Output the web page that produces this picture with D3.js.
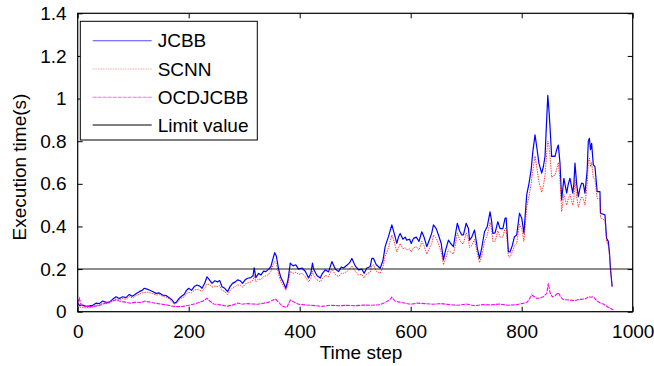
<!DOCTYPE html>
<html><head><meta charset="utf-8">
<script src="https://cdn.jsdelivr.net/npm/d3@7"></script>
<style>
html,body{margin:0;padding:0;background:#fff;}
svg text{font-family:"Liberation Sans",Arial,sans-serif;fill:#000;}
</style></head>
<body>
<svg id="chart" width="654" height="366"></svg>
<script>
const steps = [0,3,9,15,21,27,33,39,45,51,57,63,69,75,81,87,93,98,102,107,111,116,120,125,129,135,141,147,153,159,165,170,174,178,182,186,192,196,200,205,210,215,220,224,229,233,237,242,247,252,256,260,265,270,275,279,284,288,293,297,302,306,312,316,318,321,326,330,335,339,344,348,352,355,358,362,366,370,375,379,383,388,393,398,404,410,416,420,423,425,431,437,441,446,452,458,464,470,475,479,486,490,494,500,506,512,516,521,527,530,533,538,545,550,554,557,560,563,566,570,575,578,581,586,590,593,598,601,605,610,615,620,624,629,634,638,641,646,650,655,659,663,668,672,677,681,684,688,692,695,700,704,706,710,715,720,724,728,733,738,743,746,748,752,757,761,766,770,772,776,779,783,787,791,796,800,804,809,813,817,820,824,827,831,836,839,842,845,847,849,851,854,857,860,863,866,869,872,876,881,884,887,892,894,896,899,902,905,908,911,914,918,920,922,924,926,929,932,936,941,942,950,953,956,958,960,963];

const jcbb = [0.04,0.03,0.031,0.025,0.027,0.03,0.04,0.038,0.05,0.044,0.045,0.058,0.07,0.062,0.07,0.066,0.081,0.072,0.078,0.088,0.094,0.1,0.11,0.106,0.102,0.095,0.086,0.088,0.078,0.076,0.066,0.055,0.04,0.045,0.06,0.07,0.082,0.1,0.11,0.1,0.118,0.125,0.12,0.11,0.135,0.164,0.15,0.133,0.145,0.14,0.146,0.117,0.11,0.094,0.12,0.133,0.14,0.149,0.145,0.133,0.15,0.157,0.16,0.17,0.206,0.16,0.18,0.172,0.19,0.188,0.2,0.211,0.25,0.277,0.26,0.2,0.16,0.14,0.11,0.15,0.228,0.215,0.22,0.2,0.205,0.19,0.158,0.18,0.228,0.2,0.17,0.158,0.18,0.196,0.187,0.235,0.2,0.188,0.21,0.205,0.22,0.23,0.25,0.215,0.196,0.2,0.18,0.205,0.211,0.25,0.25,0.22,0.204,0.24,0.305,0.33,0.352,0.38,0.407,0.37,0.321,0.35,0.367,0.34,0.35,0.336,0.34,0.32,0.344,0.35,0.33,0.375,0.35,0.305,0.34,0.37,0.407,0.39,0.36,0.32,0.243,0.29,0.336,0.32,0.305,0.37,0.415,0.38,0.36,0.36,0.415,0.39,0.336,0.35,0.383,0.3,0.25,0.3,0.375,0.4,0.469,0.42,0.367,0.37,0.422,0.39,0.39,0.438,0.44,0.282,0.28,0.31,0.352,0.36,0.462,0.44,0.368,0.548,0.6,0.665,0.75,0.83,0.775,0.697,0.65,0.68,0.728,0.9,1.015,0.95,0.868,0.728,0.73,0.728,0.76,0.782,0.697,0.524,0.626,0.556,0.6,0.626,0.556,0.6,0.697,0.6,0.54,0.58,0.603,0.6,0.556,0.665,0.8,0.814,0.76,0.79,0.69,0.68,0.563,0.563,0.462,0.454,0.344,0.33,0.282,0.2,0.117];

const scnn = [0.03,0.022,0.02,0.018,0.02,0.022,0.03,0.032,0.04,0.038,0.04,0.05,0.06,0.056,0.062,0.058,0.07,0.065,0.07,0.078,0.082,0.088,0.09,0.092,0.09,0.085,0.078,0.08,0.072,0.068,0.06,0.048,0.035,0.04,0.052,0.062,0.07,0.085,0.09,0.088,0.1,0.105,0.1,0.095,0.11,0.13,0.128,0.115,0.12,0.118,0.122,0.1,0.095,0.08,0.1,0.112,0.118,0.125,0.125,0.115,0.13,0.135,0.14,0.148,0.17,0.14,0.155,0.15,0.165,0.168,0.175,0.19,0.22,0.235,0.225,0.175,0.14,0.125,0.1,0.13,0.19,0.18,0.185,0.175,0.18,0.165,0.14,0.155,0.19,0.17,0.15,0.14,0.155,0.17,0.165,0.2,0.175,0.165,0.18,0.18,0.19,0.2,0.215,0.19,0.172,0.175,0.158,0.178,0.185,0.215,0.22,0.19,0.18,0.21,0.26,0.28,0.3,0.33,0.36,0.33,0.28,0.3,0.32,0.295,0.3,0.29,0.295,0.28,0.3,0.305,0.29,0.33,0.31,0.27,0.3,0.32,0.36,0.345,0.32,0.28,0.22,0.25,0.29,0.28,0.27,0.32,0.37,0.34,0.32,0.32,0.37,0.34,0.3,0.31,0.34,0.27,0.23,0.26,0.33,0.36,0.42,0.38,0.33,0.33,0.38,0.35,0.35,0.39,0.39,0.26,0.255,0.28,0.31,0.32,0.41,0.39,0.33,0.49,0.54,0.6,0.66,0.73,0.68,0.61,0.56,0.59,0.64,0.74,0.8,0.78,0.73,0.63,0.64,0.64,0.67,0.7,0.62,0.47,0.55,0.5,0.53,0.55,0.5,0.53,0.62,0.54,0.49,0.52,0.54,0.53,0.5,0.6,0.7,0.72,0.68,0.7,0.63,0.62,0.53,0.53,0.44,0.43,0.33,0.31,0.27,0.2,0.12];

const ocdSteps = [0,3,6,12,20,30,40,46,55,62,69,75,85,95,105,115,121,130,140,150,160,170,180,190,200,210,220,226,233,238,245,252,260,270,280,288,296,305,315,325,335,345,352,356,362,368,377,383,390,398,410,420,430,440,455,470,485,500,515,530,545,555,562,566,572,580,590,600,612,625,640,655,670,685,700,715,730,745,760,775,790,800,809,813,818,823,827,833,839,845,848,851,855,860,866,870,875,885,895,905,915,920,925,929,935,942,947,955,965];
const ocdjcbb = [0.04,0.063,0.03,0.025,0.024,0.025,0.03,0.036,0.045,0.05,0.055,0.05,0.045,0.04,0.045,0.043,0.05,0.045,0.04,0.036,0.032,0.026,0.024,0.025,0.03,0.036,0.045,0.05,0.063,0.05,0.036,0.035,0.03,0.026,0.032,0.041,0.035,0.038,0.036,0.035,0.04,0.045,0.055,0.06,0.045,0.027,0.02,0.055,0.045,0.035,0.032,0.03,0.028,0.025,0.03,0.028,0.03,0.028,0.031,0.03,0.033,0.045,0.055,0.068,0.05,0.045,0.04,0.035,0.04,0.038,0.035,0.038,0.033,0.03,0.036,0.028,0.033,0.032,0.036,0.03,0.033,0.038,0.043,0.055,0.078,0.07,0.062,0.065,0.07,0.085,0.133,0.09,0.07,0.075,0.089,0.07,0.057,0.055,0.052,0.058,0.06,0.07,0.068,0.07,0.052,0.04,0.036,0.022,0.008];

const limitSteps = [0, 1000];
const limitValue = [0.2, 0.2];

const xTicks = [0,200,400,600,800,1000];
const yTicks = [0,0.2,0.4,0.6,0.8,1,1.2,1.4];
const legendLabels = ["JCBB","SCNN","OCDJCBB","Limit value"];
const xLabel = "Time step";
const yLabel = "Execution time(s)";

const W = 654, H = 366;
const m = {left: 77.7, top: 13.3, right: 654-632.7, bottom: 366-311.7};
const svg = d3.select("#chart");
const x = d3.scaleLinear().domain([0,1000]).range([m.left, W-m.right]);
const y = d3.scaleLinear().domain([0,1.4]).range([H-m.bottom, m.top]);

const FS = 19;
const line = (xs, ys) => d3.line().x((d,i)=>x(xs[i])).y((d,i)=>y(ys[i]))(ys);

const g = svg.append("g");
g.append("path").attr("d", line(steps, jcbb)).attr("fill","none").attr("stroke","#0000ff").attr("stroke-width",1.2).attr("stroke-linejoin","round");
g.append("path").attr("d", line(steps, scnn)).attr("fill","none").attr("stroke","#ff0000").attr("stroke-opacity",0.75).attr("stroke-width",1).attr("stroke-dasharray","1.5,1");
g.append("path").attr("d", line(ocdSteps, ocdjcbb)).attr("fill","none").attr("stroke","#ff00ff").attr("stroke-width",1.1).attr("stroke-dasharray","4,1");
g.append("path").attr("d", line(limitSteps, limitValue)).attr("fill","none").attr("stroke","#000").attr("stroke-opacity",0.6).attr("stroke-width",1.4);

svg.append("rect").attr("x",x(0)).attr("y",y(1.4)).attr("width",x(1000)-x(0)).attr("height",y(0)-y(1.4))
  .attr("fill","none").attr("stroke","#000").attr("stroke-width",1.2);

const xb = svg.append("g").attr("transform",`translate(0,${y(0)})`)
  .call(d3.axisBottom(x).tickValues(xTicks).tickSize(-5).tickPadding(13).tickFormat(d3.format("d")));
const xt = svg.append("g").attr("transform",`translate(0,${y(1.4)})`)
  .call(d3.axisTop(x).tickValues(xTicks).tickSize(-5).tickFormat(""));
const yl = svg.append("g").attr("transform",`translate(${x(0)},0)`)
  .call(d3.axisLeft(y).tickValues(yTicks).tickSize(-5).tickPadding(11).tickFormat(d=>String(+d.toFixed(1))));
const yr = svg.append("g").attr("transform",`translate(${x(1000)},0)`)
  .call(d3.axisRight(y).tickValues(yTicks).tickSize(-5).tickFormat(""));
[xb,xt,yl,yr].forEach(a=>{
  a.select(".domain").remove();
  a.selectAll(".tick line").attr("stroke","#000").attr("stroke-width",1);
  a.selectAll("text").attr("font-size",FS).attr("font-family","Liberation Sans, Arial, sans-serif").attr("fill","#000");
});

svg.append("text").attr("x",361).attr("y",359).attr("text-anchor","middle").attr("font-size",FS).text(xLabel);
svg.append("text").attr("transform","translate(26,167) rotate(-90)").attr("text-anchor","middle").attr("font-size",FS).text(yLabel);

const lg = svg.append("g");
lg.append("rect").attr("x",80.3).attr("y",21.3).attr("width",177).attr("height",118.7).attr("fill","#fff").attr("stroke","#000").attr("stroke-width",1);
const legStyles = [
  {stroke:"#0000ff", op:0.7, dash:null},
  {stroke:"#ff0000", op:0.35, dash:"1.5,1"},
  {stroke:"#ff00ff", op:0.6, dash:"4,1"},
  {stroke:"#000", op:1, dash:null}
];
const rowY = [40.7, 69, 97.3, 125];
legendLabels.forEach((lab,i)=>{
  const l = lg.append("line").attr("x1",92.7).attr("x2",151.7).attr("y1",rowY[i]).attr("y2",rowY[i])
    .attr("stroke",legStyles[i].stroke).attr("stroke-opacity",legStyles[i].op).attr("stroke-width",1.1);
  if (legStyles[i].dash) l.attr("stroke-dasharray",legStyles[i].dash);
  lg.append("text").attr("x",157.7).attr("y",rowY[i]).attr("dy","0.35em").attr("font-size",FS).text(lab);
});
</script>
</body></html>
